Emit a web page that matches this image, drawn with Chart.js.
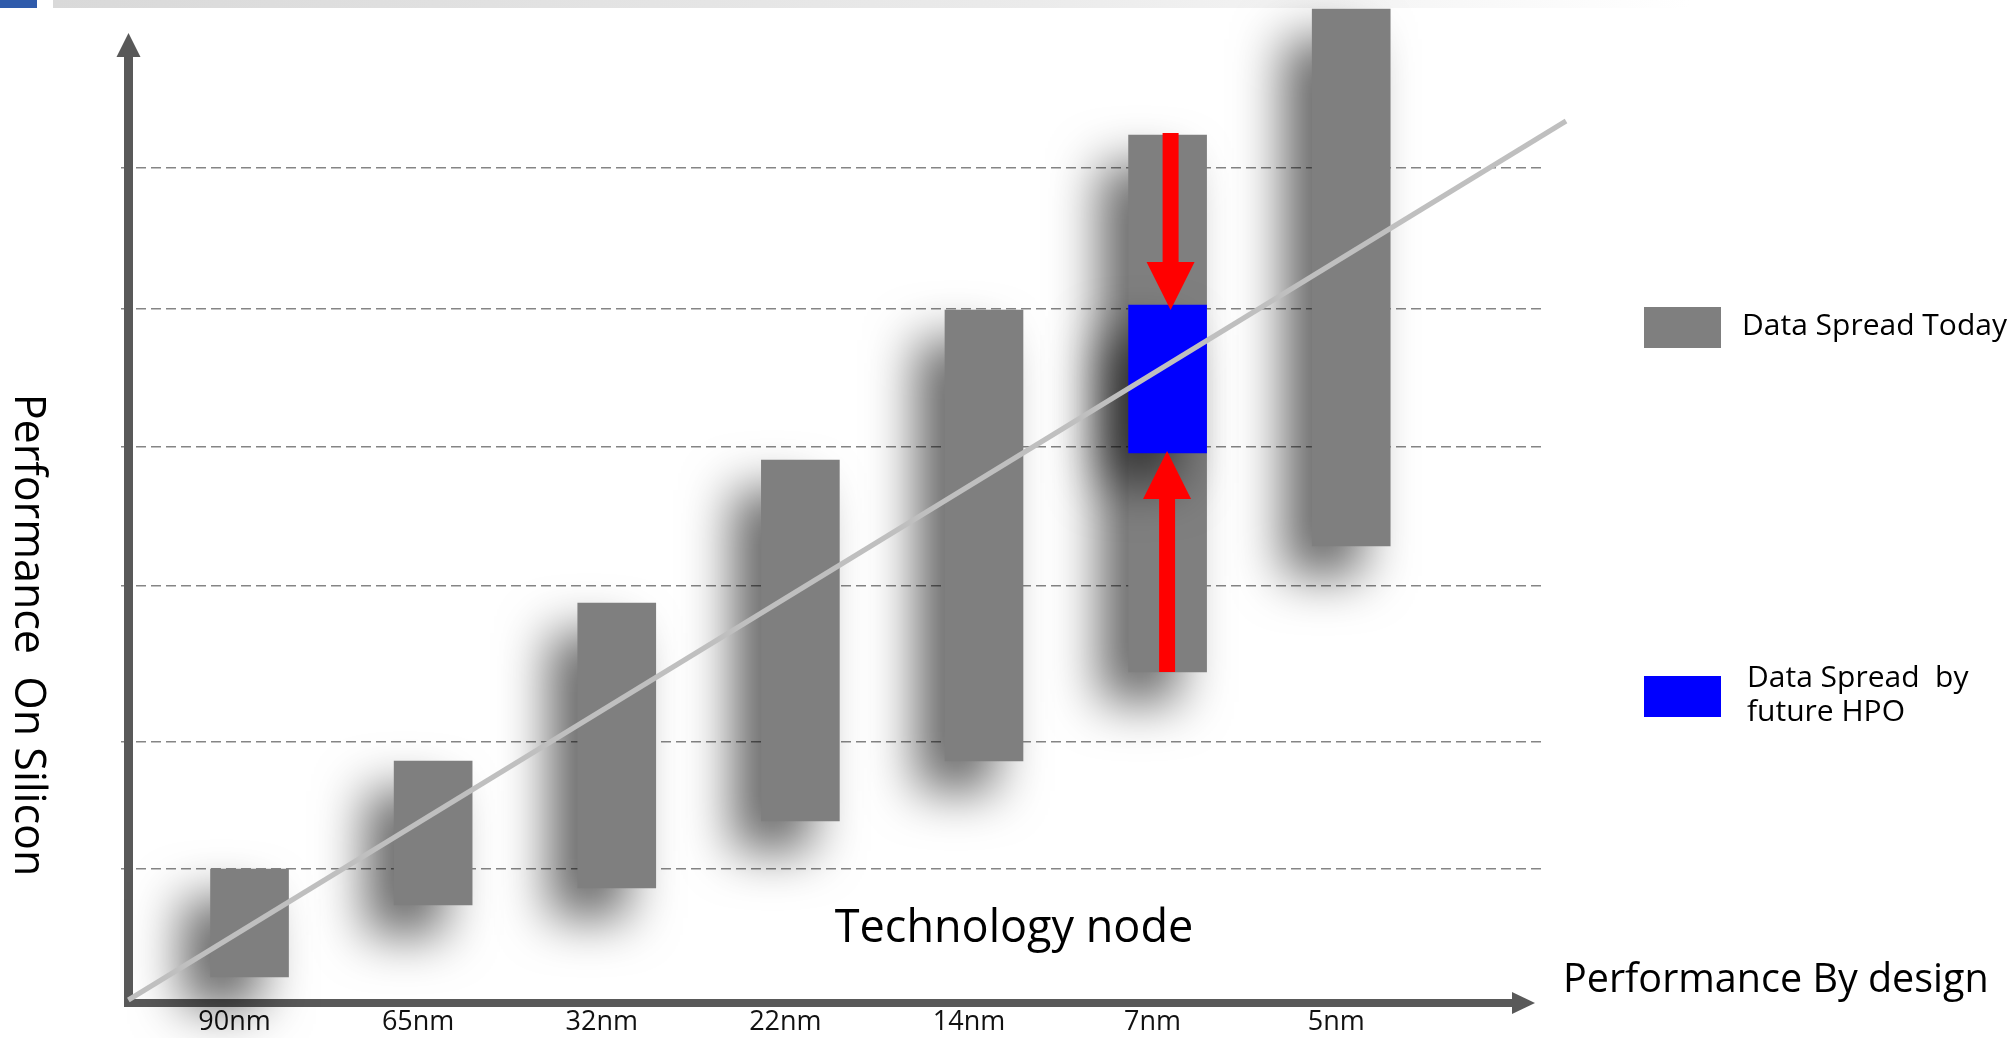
<!DOCTYPE html>
<html>
<head>
<meta charset="utf-8">
<title>Performance On Silicon vs Technology node</title>
<script src="https://cdn.jsdelivr.net/npm/chart.js@4/dist/chart.umd.min.js"></script>
<style>
  html, body { margin: 0; padding: 0; background: #ffffff; overflow: hidden; }
  canvas { display: block; }
</style>
</head>
<body>
<canvas id="chart" width="2016" height="1038"></canvas>
<script>
// Technology nodes along the horizontal axis
const nodes = ['90nm', '65nm', '32nm', '22nm', '14nm', '7nm', '5nm'];

// Spread of performance on silicon today: low and high end of each bar
const spreadLow  = [2.6, 9.8, 11.5, 18.2, 24.2, 33.1, 45.7];
const spreadHigh = [13.4, 24.2, 40.0, 54.3, 69.3, 86.8, 99.4];

// Narrower spread expected with future HPO (7nm only)
const hpoLow  = [null, null, null, null, null, 55.0, null];
const hpoHigh = [null, null, null, null, null, 69.8, null];

// Dashed reference levels
const guideLevels = [13.4, 26.1, 41.7, 55.6, 69.4, 83.5];

// Performance-by-design trend line (x in node-index units)
const trendX = [-0.66, 7.17];
const trendY = [0.3, 88.2];

const seriesNames = ['Data Spread Today', 'Data Spread  by future HPO'];
const legendLines = [['Data Spread Today'], ['Data Spread  by', 'future HPO']];

const FONT = "'Open Sans', 'Noto Sans', sans-serif";
const GRAY = '#7f7f7f';
const BLUE = '#0000ff';
const AXIS = '#595959';

Chart.defaults.font.family = FONT;

function fontSpec(size) { return size + 'px ' + FONT; }

// Soft drop shadow under the bars
const barShadow = {
  id: 'barShadow',
  beforeDatasetDraw(chart, args) {
    const ds = chart.data.datasets[args.index];
    if ((ds.type || chart.config.type) !== 'bar') return;
    const ctx = chart.ctx;
    ctx.save();
    ctx.shadowColor = 'rgba(0,0,0,0.6)';
    ctx.shadowBlur = 50;
    ctx.shadowOffsetX = -28;
    ctx.shadowOffsetY = 30;
  },
  afterDatasetDraw(chart, args) {
    const ds = chart.data.datasets[args.index];
    if ((ds.type || chart.config.type) !== 'bar') return;
    chart.ctx.restore();
  }
};

// Page banner, axis arrows, titles, legend and the HPO arrows
const decorations = {
  id: 'decorations',
  beforeDraw(chart) {
    const ctx = chart.ctx;
    ctx.save();
    ctx.fillStyle = '#ffffff';
    ctx.fillRect(0, 0, chart.width, chart.height);
    // top banner
    ctx.fillStyle = '#2f5bab';
    ctx.fillRect(0, 0, 37, 8);
    const g = ctx.createLinearGradient(53, 0, 1690, 0);
    g.addColorStop(0, '#d9d9d9');
    g.addColorStop(0.6, '#ebebeb');
    g.addColorStop(1, '#ffffff');
    ctx.fillStyle = g;
    ctx.fillRect(53, 0, 1637, 8);
    ctx.restore();
  },
  beforeDatasetsDraw(chart) {
    const ctx = chart.ctx;
    const a = chart.chartArea;
    const ox = a.left + 7.5;
    const oy = a.bottom;
    ctx.save();
    ctx.fillStyle = AXIS;
    // vertical axis
    ctx.fillRect(ox - 4.5, a.top + 54, 9, oy - a.top - 50);
    ctx.beginPath();
    ctx.moveTo(ox - 12, a.top + 54);
    ctx.lineTo(ox + 12, a.top + 54);
    ctx.lineTo(ox, a.top + 30);
    ctx.closePath();
    ctx.fill();
    // horizontal axis
    const tip = a.right - 9;
    ctx.fillRect(ox - 4.5, oy - 4, tip - 23 - (ox - 4.5), 8);
    ctx.beginPath();
    ctx.moveTo(tip - 23, oy - 11);
    ctx.lineTo(tip - 23, oy + 11);
    ctx.lineTo(tip, oy);
    ctx.closePath();
    ctx.fill();
    ctx.restore();
  },
  afterDatasetsDraw(chart) {
    const ctx = chart.ctx;
    const x = chart.scales.x;
    const y = chart.scales.y;
    ctx.save();

    // red arrows squeezing today's 7nm spread toward the HPO spread
    const k = hpoLow.findIndex(v => v !== null);
    const cx = x.getPixelForValue(k);
    const grayTop = y.getPixelForValue(spreadHigh[k]);
    const grayBot = y.getPixelForValue(spreadLow[k]);
    const blueTop = y.getPixelForValue(hpoHigh[k]);
    const blueBot = y.getPixelForValue(hpoLow[k]);
    ctx.fillStyle = '#ff0000';
    const shaft = 16, head = 48, headLen = 48;
    // downward arrow
    let ax = cx + 3;
    let tipY = blueTop + 5;
    ctx.fillRect(ax - shaft / 2, grayTop - 2, shaft, tipY - headLen - grayTop + 2);
    ctx.beginPath();
    ctx.moveTo(ax - head / 2, tipY - headLen);
    ctx.lineTo(ax + head / 2, tipY - headLen);
    ctx.lineTo(ax, tipY);
    ctx.closePath();
    ctx.fill();
    // upward arrow
    ax = cx - 0.5;
    tipY = blueBot - 2;
    ctx.fillRect(ax - shaft / 2, tipY + headLen, shaft, grayBot - tipY - headLen);
    ctx.beginPath();
    ctx.moveTo(ax - head / 2, tipY + headLen);
    ctx.lineTo(ax + head / 2, tipY + headLen);
    ctx.lineTo(ax, tipY);
    ctx.closePath();
    ctx.fill();

    // titles
    ctx.fillStyle = '#000000';
    ctx.textBaseline = 'alphabetic';
    ctx.font = fontSpec(45);
    ctx.textAlign = 'center';
    ctx.fillText('Technology node', 1014, 942);
    ctx.font = fontSpec(39.5);
    ctx.textAlign = 'left';
    ctx.fillText('Performance By design', 1563, 992);
    ctx.save();
    ctx.translate(15, 635);
    ctx.rotate(Math.PI / 2);
    ctx.font = fontSpec(43);
    ctx.textAlign = 'center';
    ctx.fillText('Performance  On Silicon', 0, 0);
    ctx.restore();

    // legend
    const items = [
      { top: 307, color: chart.data.datasets[0].backgroundColor, textX: 1742, baselines: [335] },
      { top: 676, color: chart.data.datasets[1].backgroundColor, textX: 1747, baselines: [687, 721] }
    ];
    ctx.font = fontSpec(30);
    ctx.textAlign = 'left';
    items.forEach((it, i) => {
      ctx.fillStyle = it.color;
      ctx.fillRect(1644, it.top, 77, 41);
      ctx.fillStyle = '#000000';
      legendLines[i].forEach((line, j) => ctx.fillText(line, it.textX, it.baselines[j]));
    });

    ctx.restore();
  }
};

new Chart(document.getElementById('chart'), {
  type: 'bar',
  data: {
    datasets: [
      {
        label: seriesNames[0],
        data: nodes.map((n, i) => ({ x: i, y: [spreadLow[i], spreadHigh[i]] })),
        backgroundColor: GRAY,
        borderWidth: 0,
        barThickness: 78,
        grouped: false,
        clip: false,
        order: 3
      },
      {
        label: seriesNames[1],
        data: nodes
          .map((n, i) => (hpoLow[i] === null ? null : { x: i, y: [hpoLow[i], hpoHigh[i]] }))
          .filter(p => p !== null),
        backgroundColor: BLUE,
        borderWidth: 0,
        barThickness: 78,
        grouped: false,
        clip: false,
        order: 2
      },
      {
        type: 'line',
        label: 'Performance By design',
        data: trendX.map((v, i) => ({ x: v, y: trendY[i] })),
        borderColor: '#bfbfbf',
        borderWidth: 5,
        pointRadius: 0,
        tension: 0,
        fill: false,
        clip: false,
        order: 1
      }
    ]
  },
  options: {
    responsive: false,
    devicePixelRatio: 1,
    animation: false,
    events: [],
    layout: { padding: { left: 121, right: 472, top: 3, bottom: 0 } },
    plugins: {
      legend: { display: false },
      tooltip: { enabled: false },
      title: { display: false }
    },
    scales: {
      x: {
        type: 'linear',
        min: -0.7,
        max: 7.05,
        offset: false,
        grid: { display: false, drawTicks: false },
        border: { display: false },
        afterBuildTicks: (scale) => { scale.ticks = nodes.map((n, i) => ({ value: i })); },
        afterFit: (scale) => { scale.height = 35; },
        ticks: {
          autoSkip: false,
          maxRotation: 0,
          padding: 3,
          labelOffset: -15,
          color: '#111111',
          font: { size: 27 },
          callback: (value, index) => nodes[index]
        }
      },
      y: {
        type: 'linear',
        min: 0,
        max: 100,
        ticks: { display: false },
        grid: { color: '#858585', lineWidth: 1.5, drawTicks: false },
        border: { display: false, dash: [10, 5] },
        afterBuildTicks: (scale) => { scale.ticks = guideLevels.map(v => ({ value: v })); },
        afterFit: (scale) => { scale.width = 0; }
      }
    }
  },
  plugins: [barShadow, decorations]
});
</script>
</body>
</html>
